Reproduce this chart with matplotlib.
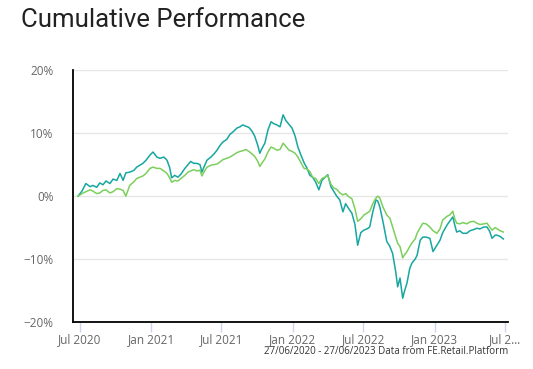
import matplotlib
matplotlib.use("Agg")
import matplotlib.pyplot as plt
import pandas as pd

# Data (cumulative % change)
dates = [
    "2020-06-27", "2020-07-07", "2020-07-17", "2020-07-28", "2020-08-04", "2020-08-14",
    "2020-08-22", "2020-08-30", "2020-09-07", "2020-09-17", "2020-09-25", "2020-10-05",
    "2020-10-13", "2020-10-21", "2020-10-28", "2020-11-07", "2020-11-18", "2020-11-25",
    "2020-12-03", "2020-12-11", "2020-12-19", "2020-12-29", "2021-01-06", "2021-01-16",
    "2021-01-24", "2021-02-03", "2021-02-11", "2021-02-18", "2021-02-23", "2021-03-03",
    "2021-03-11", "2021-03-19", "2021-03-29", "2021-04-06", "2021-04-13", "2021-04-21",
    "2021-04-29", "2021-05-07", "2021-05-12", "2021-05-17", "2021-05-25", "2021-06-04",
    "2021-06-12", "2021-06-20", "2021-06-27", "2021-07-05", "2021-07-15", "2021-07-23",
    "2021-07-31", "2021-08-10", "2021-08-18", "2021-08-25", "2021-09-02", "2021-09-10",
    "2021-09-18", "2021-09-25", "2021-10-03", "2021-10-08", "2021-10-13", "2021-10-21",
    "2021-10-29", "2021-11-06", "2021-11-13", "2021-11-21", "2021-11-29", "2021-12-07",
    "2021-12-14", "2021-12-22", "2021-12-30", "2022-01-07", "2022-01-14", "2022-01-22",
    "2022-01-30", "2022-02-06", "2022-02-14", "2022-02-21", "2022-03-01", "2022-03-09",
    "2022-03-17", "2022-03-25", "2022-04-01", "2022-04-09", "2022-04-16", "2022-04-24",
    "2022-05-02", "2022-05-10", "2022-05-17", "2022-05-25", "2022-06-02", "2022-06-10",
    "2022-06-17", "2022-06-25", "2022-07-03", "2022-07-11", "2022-07-18", "2022-07-26",
    "2022-08-03", "2022-08-08", "2022-08-13", "2022-08-21", "2022-08-31", "2022-09-08",
    "2022-09-15", "2022-09-23", "2022-09-28", "2022-10-04", "2022-10-11", "2022-10-16",
    "2022-10-22", "2022-10-29", "2022-11-04", "2022-11-12", "2022-11-17", "2022-11-25",
    "2022-12-02", "2022-12-10", "2022-12-20", "2022-12-28", "2023-01-07", "2023-01-15",
    "2023-01-22", "2023-02-02", "2023-02-09", "2023-02-17", "2023-02-22", "2023-02-27",
    "2023-03-07", "2023-03-15", "2023-03-25", "2023-04-02", "2023-04-12", "2023-04-20",
    "2023-04-28", "2023-05-08", "2023-05-16", "2023-05-23", "2023-05-29", "2023-06-06",
    "2023-06-11", "2023-06-19", "2023-06-27",
]

fund = [
    0.0, 0.8, 2.0, 1.5, 1.7, 1.4,
    2.1, 1.8, 2.4, 2.0, 2.7, 2.5,
    3.6, 2.5, 3.7, 3.8, 4.1, 4.6,
    4.9, 5.2, 5.7, 6.5, 7.0, 6.2,
    6.0, 6.2, 5.7, 4.5, 2.9, 3.3,
    3.0, 3.5, 4.4, 5.0, 5.5, 5.2,
    5.2, 5.0, 3.8, 4.6, 5.7, 6.2,
    6.7, 7.3, 8.0, 8.6, 9.0, 9.8,
    10.2, 10.8, 11.0, 11.3, 11.1, 10.9,
    10.3, 9.5, 8.0, 6.8, 7.5, 8.4,
    10.5, 11.8, 11.5, 11.3, 11.0, 12.9,
    12.0, 11.4, 10.8, 9.5, 7.8, 6.5,
    5.3, 4.5, 3.3, 3.0, 2.2, 1.0,
    2.5, 3.0, 3.4, 1.5, 0.8, 0.0,
    -0.6, -2.5, -1.2, -2.0, -2.7, -4.5,
    -7.8, -5.8, -5.4, -5.2, -4.9, -2.5,
    -0.6, -0.8, -1.7, -4.0, -7.2, -8.0,
    -9.1, -12.0, -14.4, -13.0, -16.2, -15.0,
    -13.8, -11.5, -10.6, -10.0, -9.4, -7.0,
    -6.5, -6.5, -6.7, -8.8, -7.8, -7.0,
    -5.8, -4.6, -4.0, -3.3, -4.6, -5.7,
    -5.5, -5.9, -5.9, -5.5, -5.3, -5.1,
    -5.2, -4.9, -4.9, -5.6, -6.7, -6.2,
    -6.2, -6.4, -6.8,
]

sector = [
    0.0, 0.4, 0.7, 1.0, 0.8, 0.4,
    0.5, 0.9, 1.0, 0.5, 0.7, 1.2,
    1.1, 0.9, 0.0, 1.7, 2.3, 2.8,
    3.0, 3.2, 3.6, 4.4, 4.6, 4.4,
    4.4, 4.0, 3.6, 2.9, 2.2, 2.5,
    2.4, 2.8, 3.3, 3.8, 4.0, 4.2,
    4.0, 4.1, 3.2, 3.8, 4.6, 4.9,
    5.0, 5.1, 5.4, 5.8, 6.0, 6.2,
    6.5, 6.9, 7.1, 7.2, 7.4, 7.1,
    6.7, 6.3, 5.5, 4.7, 5.2, 5.9,
    7.0, 7.8, 7.6, 7.3, 7.4, 8.4,
    7.9, 7.3, 7.1, 6.8, 6.2, 5.3,
    4.4, 4.3, 3.9, 3.0, 2.8, 2.0,
    2.8, 3.0, 3.3, 1.9, 1.3, 1.1,
    0.5, 0.2, 0.4, -0.1, -0.4, -2.0,
    -4.0, -3.6, -3.0, -2.7, -2.4, -1.2,
    -0.3, 0.0, -0.3, -1.7, -3.0, -3.5,
    -4.9, -6.5, -7.5, -8.0, -9.8, -9.3,
    -8.8, -8.0, -7.4, -6.8, -5.9, -5.0,
    -4.3, -4.4, -4.9, -5.5, -5.9, -5.2,
    -3.8, -3.2, -3.0, -2.4, -3.6, -4.3,
    -4.4, -4.2, -4.4, -4.1, -4.0, -4.3,
    -4.5, -4.4, -4.3, -4.9, -5.4, -5.0,
    -5.2, -5.5, -5.7,
]

tick_dates = ["2020-07-01", "2021-01-01", "2021-07-01", "2022-01-01",
              "2022-07-01", "2023-01-01", "2023-07-01"]
tick_labels = ["Jul 2020", "Jan 2021", "Jul 2021", "Jan 2022",
               "Jul 2022", "Jan 2023", "Jul 2\u2026"]
y_ticks = [-20, -10, 0, 10, 20]

x = pd.to_datetime(dates)

fig = plt.figure(figsize=(5.33, 3.69), dpi=100)
ax = fig.add_axes([0.137, 0.127, 0.816, 0.683])

ax.plot(x, fund, color="#17a6a0", lw=1.1, zorder=3)
ax.plot(x, sector, color="#7ccf5c", lw=1.1, zorder=3)

ax.set_ylim(-20, 20)
ax.set_xlim(pd.Timestamp("2020-06-14"), pd.Timestamp("2023-07-09"))
ax.set_yticks(y_ticks)
ax.set_yticklabels([f"{v}%".replace("-", "\u2212") for v in y_ticks],
                   fontfamily="Open Sans", fontsize=8.5, color="#666666")
ax.set_xticks(pd.to_datetime(tick_dates))
ax.set_xticklabels(tick_labels, fontfamily="Open Sans", fontsize=8.5, color="#666666")

ax.grid(axis="y", color="#e6e6e6", lw=1)
ax.set_axisbelow(True)
for s in ["top", "right"]:
    ax.spines[s].set_visible(False)
ax.spines["left"].set_color("black")
ax.spines["bottom"].set_color("black")
ax.spines["left"].set_linewidth(1.3)
ax.spines["bottom"].set_linewidth(1.3)
ax.tick_params(axis="y", length=0, pad=14)
ax.tick_params(axis="x", length=7, color="#ccd6eb", width=1, pad=1)

fig.text(21 / 533, 1 - 20 / 369, "Cumulative Performance", fontfamily="Roboto",
         fontsize=18.5, color="#222222", va="center", ha="left")
fig.text(508 / 533, 1 - 351 / 369,
         "27/06/2020 - 27/06/2023 Data from FE.Retail.Platform",
         fontfamily="Open Sans", fontsize=7, color="#333333", ha="right", va="center")

fig.savefig("out.png", dpi=100)
